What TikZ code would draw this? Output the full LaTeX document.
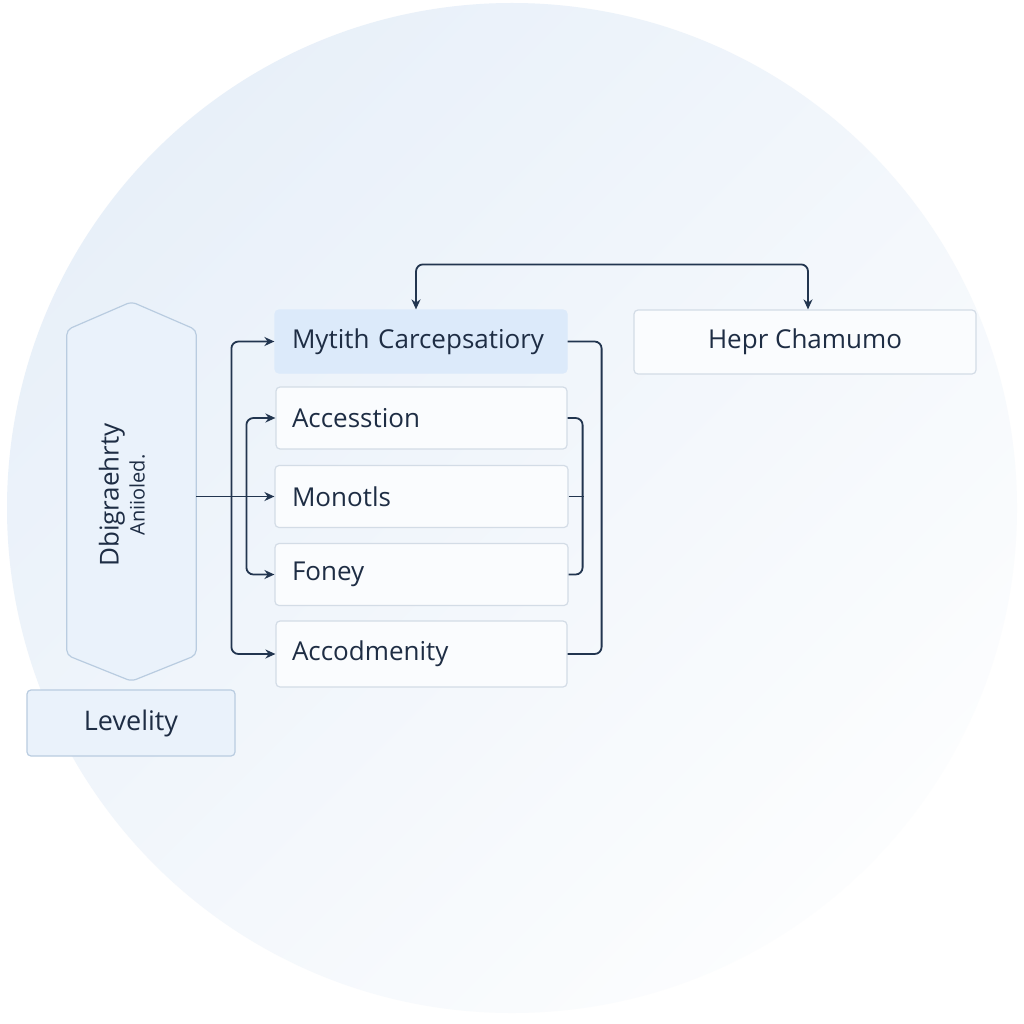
\documentclass[tikz,border=0pt]{standalone}
\usepackage{fontspec}
\setmainfont{Open Sans}
\usetikzlibrary{arrows.meta}

\definecolor{ink}{HTML}{1E2D44}
\definecolor{wire}{HTML}{22354F}
\definecolor{boxline}{HTML}{D3DCE6}
\definecolor{boxfill}{HTML}{FAFCFE}
\definecolor{bluebox}{HTML}{DCEAFA}
\definecolor{hexfill}{HTML}{EAF2FB}
\definecolor{hexline}{HTML}{B9CCE0}
\definecolor{bgA}{HTML}{E8F0F9}
\definecolor{bgB}{HTML}{FCFDFE}

\tikzset{
  item/.style={draw=boxline, line width=1.2pt, rounded corners=4pt, fill=boxfill, minimum height=62pt,
    text width=258pt, inner xsep=17pt, inner ysep=0pt, align=left, text=ink,
    font=\fontsize{26}{30}\selectfont},
  wirearrow/.style={draw=wire, line width=1.8pt, rounded corners=7pt, -{Stealth[length=10pt, width=9pt]}},
  wireplain/.style={draw=wire, line width=1.8pt, rounded corners=7pt}
}

\begin{document}
\begin{tikzpicture}[x=1pt, y=-1pt]
\useasboundingbox (0,0) rectangle (1024,1024);
\fill[white] (0,0) rectangle (1024,1024);
\shade[left color=bgA, right color=bgB, shading angle=45] (512,508) circle (505);

\node[minimum width=129pt, minimum height=379pt, inner sep=0pt] (hexbox)at(131.5, 491.5) {};
\draw[draw=hexline, fill=hexfill, line width=1.2pt, rounded corners=5pt] (hexbox.north) -- ([yshift=-28pt]hexbox.north east) -- ([yshift=26pt]hexbox.south east) -- (hexbox.south) -- ([yshift=26pt]hexbox.south west) -- ([yshift=-28pt]hexbox.north west) -- cycle;
\node[rotate=90, align=center, text=ink, font=\fontsize{26}{32}\selectfont] (hextext)at(122, 495) {Dbigraehrty\\[-6pt]{\fontsize{20}{22}\selectfont Aniioled.}};

\node[item, fill=bluebox, draw=bluebox, minimum height=63pt] (mytith)at(421, 341.5) {Mytith Carcepsatiory};
\node[item, text width=259pt, inner xsep=16pt] (access)at(421.5, 418) {Accesstion};
\node[item, text width=259pt] (monotls)at(421.5, 496.5) {Monotls};
\node[item, text width=259pt] (foney)at(421.5, 574.5) {Foney};
\node[item, text width=259pt, inner xsep=16pt, minimum height=66pt] (accod)at(421.5, 654) {Accodmenity};
\node[draw=boxline, line width=1.2pt, rounded corners=4pt, fill=boxfill, minimum width=342pt, minimum height=64pt, text=ink, font=\fontsize{26}{30}\selectfont] (hepr)at(805, 342) {Hepr Chamumo};
\node[draw=hexline, line width=1.2pt, rounded corners=4pt, fill=hexfill, minimum width=208pt, minimum height=66pt, text=ink, font=\fontsize{27}{30}\selectfont] (levelity)at(131, 723) {Levelity};

% feedback links
\draw[wirearrow, {Stealth[length=10pt, width=9pt]}-{Stealth[length=10pt, width=9pt]}] ([xshift=-5pt]mytith.north) -- ++(0,-45) -| ([xshift=3pt]hepr.north);
\draw[wirearrow, {Stealth[length=10pt, width=9pt]}-{Stealth[length=10pt, width=9pt]}] (mytith.west) -- ++(-43,0) |- (accod.west);
\draw[wirearrow, {Stealth[length=10pt, width=9pt]}-{Stealth[length=10pt, width=9pt]}] (access.west) -- ++(-29,0) |- (foney.west);
\draw[wirearrow] (hexbox.east |- monotls.west) -- (monotls.west);

% right side brackets
\draw[wireplain] (mytith.east) -- ++(34,0) |- (accod.east);
\draw[wireplain] (access.east) -- ++(15,0) |- (foney.east);
\draw[wireplain] (monotls.east) -- ++(15,0);
\end{tikzpicture}
\end{document}
